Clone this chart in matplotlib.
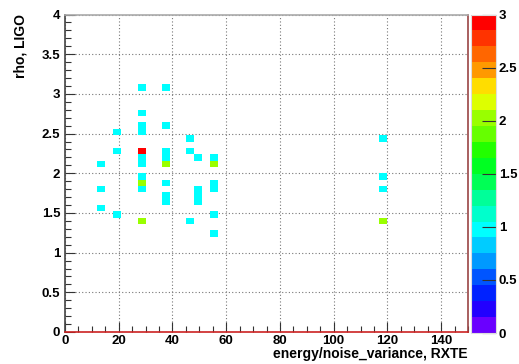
import numpy as np
import matplotlib
matplotlib.use("Agg")
import matplotlib.pyplot as plt
from matplotlib.colors import ListedColormap, Normalize
from matplotlib.ticker import MultipleLocator

plt.rcParams['font.family'] = ['Liberation Sans', 'DejaVu Sans']
plt.rcParams['font.weight'] = 'bold'

# filled cells: bin centres (x, y) and content
cell_x = [28.5] * 11 + [37.5] * 8 + [19.5] * 3 + [13.5] * 3 + [46.5] * 3 \
    + [49.5] * 4 + [55.5] * 6 + [118.5] * 4
cell_y = [3.08, 2.76, 2.60, 2.52, 2.28, 2.20, 2.12, 1.96, 1.88, 1.80, 1.40,
          3.08, 2.60, 2.28, 2.20, 2.12, 1.88, 1.72, 1.64,
          2.52, 2.28, 1.48,
          2.12, 1.80, 1.56,
          2.44, 2.28, 1.40,
          2.20, 1.80, 1.72, 1.64,
          2.20, 2.12, 1.88, 1.80, 1.48, 1.24,
          2.44, 1.96, 1.80, 1.40]
cell_w = [1, 1, 1, 1, 3, 1, 1, 1, 2, 1, 2,
          1, 1, 1, 1, 2, 1, 1, 1,
          1, 1, 1,
          1, 1, 1,
          1, 1, 1,
          1, 1, 1, 1,
          1, 2, 1, 1, 1, 1,
          1, 1, 1, 2]

# ROOT-like palette, bottom to top, 20 contour levels
palette = ['#6a00ff', '#2200ff', '#0022ff', '#0055ff', '#0099ff', '#00ccff',
           '#00ffff', '#00ffcc', '#00ff99', '#00ff55', '#00ff22', '#22ff00',
           '#66ff00', '#99ff00', '#ddff00', '#ffdd00', '#ff9900', '#ff6600',
           '#ff3300', '#ff0000']
cmap = ListedColormap(palette)
norm = Normalize(0, 3)

xedges = np.linspace(0, 150, 51)
yedges = np.linspace(0, 4, 51)
H, _, _ = np.histogram2d(cell_x, cell_y, bins=[xedges, yedges], weights=cell_w)
H = np.ma.masked_where(H == 0, H)

W, Hh = 519, 364
fig = plt.figure(figsize=(W / 100, Hh / 100), dpi=100)
ax = fig.add_axes([65 / W, 1 - 332 / Hh, (468 - 65) / W, (332 - 14.5) / Hh])
ax.pcolormesh(xedges, yedges, H.T, cmap=cmap, norm=norm)

ax.set_xlim(0, 150)
ax.set_ylim(0, 4)
ax.xaxis.set_major_locator(MultipleLocator(20))
ax.xaxis.set_minor_locator(MultipleLocator(5))
ax.yaxis.set_major_locator(MultipleLocator(0.5))
ax.yaxis.set_minor_locator(MultipleLocator(0.1))
ax.tick_params(which='both', direction='in', top=False, right=False,
               labelsize=9.5, color='#333333', width=0.8)
ax.tick_params(which='major', length=7)
ax.tick_params(which='minor', length=4)
ax.tick_params(axis='x', pad=2)
ax.xaxis.set_major_formatter(plt.FuncFormatter(lambda v, p: '%g' % v))
ax.yaxis.set_major_formatter(plt.FuncFormatter(lambda v, p: '%g' % v))
ax.grid(True, which='major', linestyle=(0, (1, 2)), color='#777777', linewidth=0.8)
ax.set_axisbelow(True)

ax.spines['left'].set_color('#444444')
ax.spines['top'].set_color('#aaaaaa')
ax.spines['bottom'].set_color('#cc2222')
ax.spines['right'].set_color('#994444')
for s in ax.spines.values():
    s.set_linewidth(1.2)

ax.set_xlabel('energy/noise_variance, RXTE', fontsize=10, fontweight='bold',
              loc='right', labelpad=0)
ax.set_ylabel('rho, LIGO', fontsize=10, fontweight='bold', loc='top', labelpad=10)

# colour bar
cax = fig.add_axes([471 / W, 1 - 333 / Hh, (496 - 471) / W, (333 - 14.5) / Hh])
cb = fig.colorbar(plt.cm.ScalarMappable(norm=norm, cmap=cmap), cax=cax)
cb.outline.set_edgecolor('#dddddd')
cb.set_ticks([0, 0.5, 1, 1.5, 2, 2.5, 3])
cb.set_ticklabels(['0', '0.5', '1', '1.5', '2', '2.5', '3'])
cax.tick_params(direction='in', length=10, width=0.8, color='#333333',
                labelsize=9.5, pad=2)

fig.savefig('out.png', dpi=100)
